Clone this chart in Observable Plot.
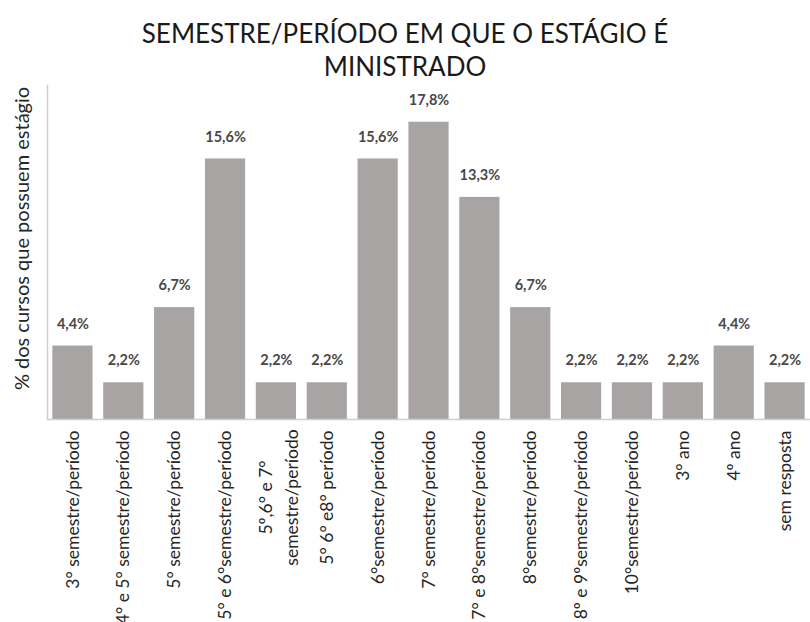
<!DOCTYPE html>
<html>
<head>
<meta charset="utf-8">
<script src="https://cdn.jsdelivr.net/npm/d3@7"></script>
<script src="https://cdn.jsdelivr.net/npm/@observablehq/plot@0.6"></script>
<style>
  html, body { margin: 0; padding: 0; background: #fff; }
  #title { font-family: Lato, "Open Sans", sans-serif; font-size: 26px; line-height: 33px; color: #1a1a1a;
           text-align: center; width: 810px; height: 66px; padding-top: 17px; box-sizing: content-box; }
  #chart svg { display: block; }
</style>
</head>
<body>
<div id="title">SEMESTRE/PERÍODO EM QUE O ESTÁGIO É<br>MINISTRADO</div>
<div id="chart"></div>
<script>
const categories = [
  "3° semestre/período",
  "4° e 5° semestre/período",
  "5° semestre/período",
  "5° e 6°semestre/período",
  "5º,6° e 7°\nsemestre/período",
  "5° 6° e8° período",
  "6°semestre/período",
  "7° semestre/período",
  "7° e 8°semestre/período",
  "8°semestre/período",
  "8º e 9ºsemestre/período",
  "10°semestre/período",
  "3° ano",
  "4º ano",
  "sem resposta"
];
const values = [4.4, 2.2, 6.7, 15.6, 2.2, 2.2, 15.6, 17.8, 13.3, 6.7, 2.2, 2.2, 2.2, 4.4, 2.2];
const yLabel = "% dos cursos que possuem estágio";

const data = categories.map((c, i) => ({category: c, value: values[i]}));
const fmt = v => v.toFixed(1).replace(".", ",") + "%";
const singleLine = categories.filter(c => !c.includes("\n"));
const multiLine = categories.filter(c => c.includes("\n"));

const chart = Plot.plot({
  width: 810,
  height: 539,
  marginTop: 2,
  marginBottom: 203,
  marginLeft: 47,
  marginRight: 0,
  style: {fontFamily: "Lato, 'Open Sans', sans-serif", background: "#fff"},
  x: {domain: categories, paddingInner: 0.21, paddingOuter: 0.105, round: false, axis: null},
  y: {domain: [0, 20], axis: null},
  marks: [
    Plot.barY(data, {x: "category", y: "value", fill: "#a8a4a3"}),
    Plot.ruleY([0], {stroke: "#cfcfcf", strokeWidth: 1.5}),
    Plot.frame({anchor: "left", stroke: "#cfcfcf", strokeWidth: 1.5}),
    Plot.text(data, {x: "category", y: "value", text: d => fmt(d.value), dy: -22,
      fontSize: 14.5, fontWeight: "bold", fill: "#484848"}),
    Plot.text(singleLine, {x: d => d, frameAnchor: "bottom", rotate: -90, textAnchor: "end",
      lineAnchor: "middle", dy: 11, fontSize: 17.5, fill: "#262626"}),
    Plot.text(multiLine, {x: d => d, frameAnchor: "bottom", rotate: -90, textAnchor: "middle",
      lineAnchor: "middle", lineHeight: 1.5, dy: 78, fontSize: 17.5, fill: "#262626"}),
    Plot.text([yLabel], {frameAnchor: "left", rotate: -90, textAnchor: "middle", lineAnchor: "middle",
      dx: -25, dy: -14, fontSize: 20, fill: "#262626"})
  ]
});
document.getElementById("chart").appendChild(chart);
</script>
</body>
</html>
